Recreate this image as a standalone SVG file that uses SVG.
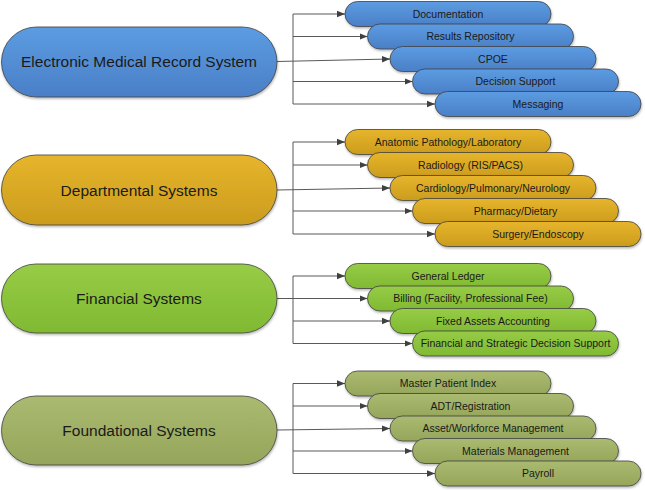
<svg xmlns="http://www.w3.org/2000/svg" width="645" height="490" viewBox="0 0 645 490">
<defs>
<linearGradient id="gBlue" x1="0" y1="0" x2="0" y2="1"><stop offset="0" stop-color="#5c9ce2"/><stop offset="1" stop-color="#4a7fc6"/></linearGradient>
<linearGradient id="gGold" x1="0" y1="0" x2="0" y2="1"><stop offset="0" stop-color="#e7b52c"/><stop offset="1" stop-color="#cb9c1d"/></linearGradient>
<linearGradient id="gGreen" x1="0" y1="0" x2="0" y2="1"><stop offset="0" stop-color="#97cc46"/><stop offset="1" stop-color="#80b932"/></linearGradient>
<linearGradient id="gOlive" x1="0" y1="0" x2="0" y2="1"><stop offset="0" stop-color="#aaba70"/><stop offset="1" stop-color="#95a55a"/></linearGradient>
<filter id="sh" x="-10%" y="-30%" width="120%" height="170%"><feDropShadow dx="0.5" dy="1.5" stdDeviation="1.2" flood-color="#000" flood-opacity="0.3"/></filter>
<marker id="arr" viewBox="0 0 8 8" refX="8" refY="4" markerWidth="8" markerHeight="8" markerUnits="userSpaceOnUse" orient="auto"><path d="M0,0.8 L8,4 L0,7.2 Z" fill="#404040"/></marker>
<style>
.main{stroke:#404040;stroke-width:0.8;filter:url(#sh)}
.sub{stroke:#404040;stroke-width:0.8;filter:url(#sh)}
.mt{font-family:"Liberation Sans",Arial,sans-serif;font-size:15.5px;fill:#1a1a1a;text-anchor:middle}
.st{font-family:"Liberation Sans",Arial,sans-serif;font-size:10.5px;fill:#1a1a1a;text-anchor:middle}
.c{stroke:#595959;stroke-width:1;fill:none}
.a{stroke:#595959;stroke-width:1;fill:none;marker-end:url(#arr)}
.blue{fill:url(#gBlue)}.gold{fill:url(#gGold)}.green{fill:url(#gGreen)}.olive{fill:url(#gOlive)}
</style>
</defs>

<g id="connectors">
<!-- EMR -->
<line class="c" x1="293" y1="14" x2="293" y2="104"/>
<line class="a" x1="293" y1="14" x2="345" y2="14"/>
<line class="a" x1="293" y1="36.5" x2="367.5" y2="36.5"/>
<line class="a" x1="277" y1="61.5" x2="390" y2="59"/>
<line class="a" x1="293" y1="81.5" x2="412.5" y2="81.5"/>
<line class="a" x1="293" y1="104" x2="435" y2="104"/>
<!-- Departmental -->
<line class="c" x1="293" y1="142" x2="293" y2="234"/>
<line class="a" x1="293" y1="142" x2="345" y2="142"/>
<line class="a" x1="293" y1="165" x2="367.5" y2="165"/>
<line class="a" x1="277" y1="190" x2="390" y2="188"/>
<line class="a" x1="293" y1="211" x2="412.5" y2="211"/>
<line class="a" x1="293" y1="234" x2="435" y2="234"/>
<!-- Financial -->
<line class="c" x1="293" y1="276" x2="293" y2="343.5"/>
<line class="a" x1="293" y1="276" x2="345" y2="276"/>
<line class="a" x1="277" y1="298.5" x2="367.5" y2="298.5"/>
<line class="a" x1="293" y1="321" x2="390" y2="321"/>
<line class="a" x1="293" y1="343.5" x2="412.5" y2="343.5"/>
<!-- Foundational -->
<line class="c" x1="293" y1="383.5" x2="293" y2="473.5"/>
<line class="a" x1="293" y1="383.5" x2="345" y2="383.5"/>
<line class="a" x1="293" y1="406" x2="367.5" y2="406"/>
<line class="a" x1="277" y1="430" x2="390" y2="428.5"/>
<line class="a" x1="293" y1="451" x2="412.5" y2="451"/>
<line class="a" x1="293" y1="473.5" x2="435" y2="473.5"/>
</g>

<g id="emr">
<rect class="main blue" x="1.5" y="27" width="275.5" height="70" rx="35"/>
<text class="mt" x="139" y="67">Electronic Medical Record System</text>
</g>
<g id="emr-doc"><rect class="sub blue" x="345" y="1.5" width="206" height="25" rx="12.5"/><text class="st" x="448" y="17.7">Documentation</text></g>
<g id="emr-results"><rect class="sub blue" x="367.5" y="24" width="206" height="25" rx="12.5"/><text class="st" x="470.5" y="40.2">Results Repository</text></g>
<g id="emr-cpoe"><rect class="sub blue" x="390" y="46.5" width="206" height="25" rx="12.5"/><text class="st" x="493" y="62.7">CPOE</text></g>
<g id="emr-decision"><rect class="sub blue" x="412.5" y="69" width="206" height="25" rx="12.5"/><text class="st" x="515.5" y="85.2">Decision Support</text></g>
<g id="emr-messaging"><rect class="sub blue" x="435" y="91.5" width="206" height="25" rx="12.5"/><text class="st" x="538" y="107.7">Messaging</text></g>

<g id="dept">
<rect class="main gold" x="1.5" y="155" width="275.5" height="70" rx="35"/>
<text class="mt" x="139" y="195.5">Departmental Systems</text>
</g>
<g id="dept-anatomic"><rect class="sub gold" x="345" y="129.5" width="206" height="25" rx="12.5"/><text class="st" x="448" y="145.7">Anatomic Pathology/Laboratory</text></g>
<g id="dept-radiology"><rect class="sub gold" x="367.5" y="152.5" width="206" height="25" rx="12.5"/><text class="st" x="470.5" y="168.7">Radiology (RIS/PACS)</text></g>
<g id="dept-cardio"><rect class="sub gold" x="390" y="175.5" width="206" height="25" rx="12.5"/><text class="st" x="493" y="191.7">Cardiology/Pulmonary/Neurology</text></g>
<g id="dept-pharmacy"><rect class="sub gold" x="412.5" y="198.5" width="206" height="25" rx="12.5"/><text class="st" x="515.5" y="214.7">Pharmacy/Dietary</text></g>
<g id="dept-surgery"><rect class="sub gold" x="435" y="221.5" width="206" height="25" rx="12.5"/><text class="st" x="538" y="237.7">Surgery/Endoscopy</text></g>

<g id="fin">
<rect class="main green" x="1.5" y="264" width="275.5" height="69" rx="34.5"/>
<text class="mt" x="139" y="304">Financial Systems</text>
</g>
<g id="fin-ledger"><rect class="sub green" x="345" y="263.5" width="206" height="25" rx="12.5"/><text class="st" x="448" y="279.7">General Ledger</text></g>
<g id="fin-billing"><rect class="sub green" x="367.5" y="286" width="206" height="25" rx="12.5"/><text class="st" x="470.5" y="302.2">Billing (Facility, Professional Fee)</text></g>
<g id="fin-assets"><rect class="sub green" x="390" y="308.5" width="206" height="25" rx="12.5"/><text class="st" x="493" y="324.7">Fixed Assets Accounting</text></g>
<g id="fin-strategic"><rect class="sub green" x="412.5" y="331" width="206" height="25" rx="12.5"/><text class="st" x="515.5" y="347.2">Financial and Strategic Decision Support</text></g>

<g id="found">
<rect class="main olive" x="1.5" y="396" width="275.5" height="69" rx="34.5"/>
<text class="mt" x="139" y="436">Foundational Systems</text>
</g>
<g id="found-mpi"><rect class="sub olive" x="345" y="371" width="206" height="25" rx="12.5"/><text class="st" x="448" y="387.2">Master Patient Index</text></g>
<g id="found-adt"><rect class="sub olive" x="367.5" y="393.5" width="206" height="25" rx="12.5"/><text class="st" x="470.5" y="409.7">ADT/Registration</text></g>
<g id="found-asset"><rect class="sub olive" x="390" y="416" width="206" height="25" rx="12.5"/><text class="st" x="493" y="432.2">Asset/Workforce Management</text></g>
<g id="found-materials"><rect class="sub olive" x="412.5" y="438.5" width="206" height="25" rx="12.5"/><text class="st" x="515.5" y="454.7">Materials Management</text></g>
<g id="found-payroll"><rect class="sub olive" x="435" y="461" width="206" height="25" rx="12.5"/><text class="st" x="538" y="477.2">Payroll</text></g>
</svg>
